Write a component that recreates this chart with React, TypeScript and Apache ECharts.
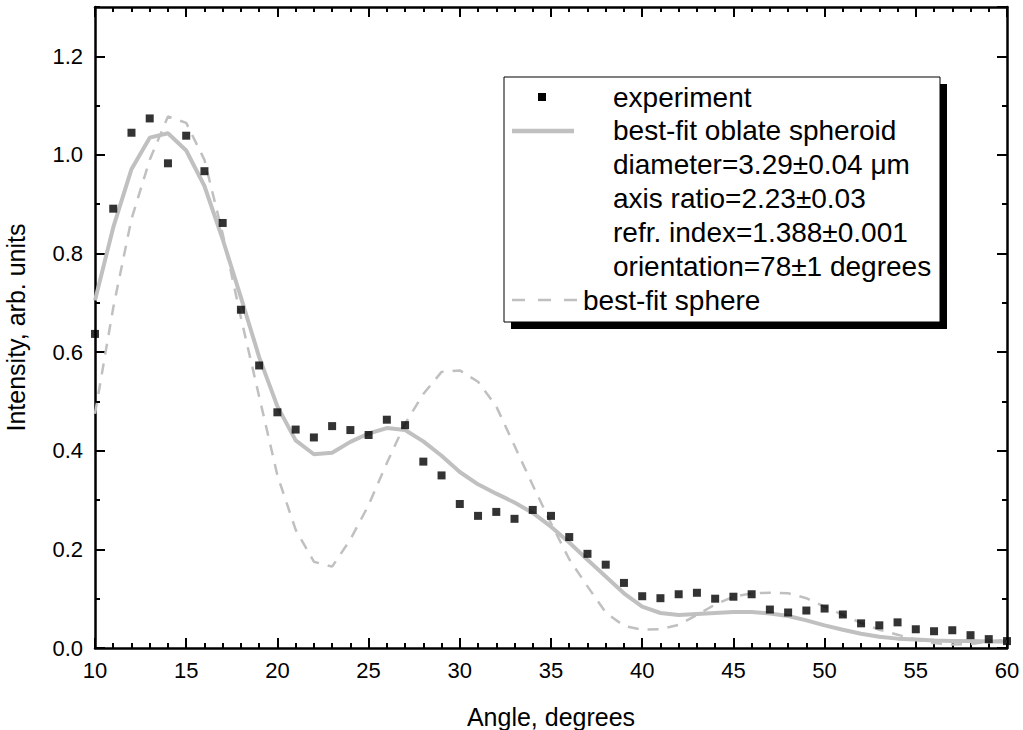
import React, { useEffect, useRef } from "react";
import * as echarts from "echarts";

const angles = [
  10, 11, 12, 13, 14, 15, 16, 17, 18, 19,
  20, 21, 22, 23, 24, 25, 26, 27, 28, 29,
  30, 31, 32, 33, 34, 35, 36, 37, 38, 39,
  40, 41, 42, 43, 44, 45, 46, 47, 48, 49,
  50, 51, 52, 53, 54, 55, 56, 57, 58, 59,
  60,
];

const experiment = [
  0.637, 0.891, 1.045, 1.074, 0.983, 1.039, 0.967, 0.862, 0.686, 0.573,
  0.478, 0.443, 0.427, 0.45, 0.442, 0.432, 0.463, 0.452, 0.378, 0.35,
  0.292, 0.268, 0.276, 0.262, 0.28, 0.268, 0.225, 0.191, 0.169, 0.132,
  0.105, 0.101, 0.109, 0.112, 0.1, 0.104, 0.109, 0.078, 0.072, 0.076,
  0.08, 0.068, 0.05, 0.046, 0.052, 0.038, 0.034, 0.036, 0.026, 0.018,
  0.014,
];

const oblateFit = [
  0.705, 0.853, 0.971, 1.035, 1.044, 1.009, 0.937, 0.829, 0.711, 0.59,
  0.49, 0.421, 0.393, 0.396, 0.418, 0.435, 0.446, 0.442, 0.419, 0.39,
  0.357, 0.332, 0.313, 0.295, 0.274, 0.246, 0.214, 0.179, 0.145, 0.111,
  0.084, 0.071, 0.067, 0.069, 0.071, 0.073, 0.073, 0.07, 0.065, 0.056,
  0.046, 0.037, 0.029, 0.023, 0.019, 0.017, 0.015, 0.014, 0.014, 0.013,
  0.013,
];

const sphereFit = [
  0.475, 0.69, 0.87, 0.99, 1.078, 1.065, 0.99, 0.84, 0.67, 0.51,
  0.35, 0.24, 0.175, 0.165, 0.22, 0.29, 0.375, 0.455, 0.515, 0.56,
  0.563, 0.54, 0.49, 0.41, 0.33, 0.253, 0.18, 0.125, 0.072, 0.045,
  0.037, 0.038, 0.047, 0.067, 0.088, 0.104, 0.111, 0.112, 0.111, 0.101,
  0.084, 0.067, 0.051, 0.037, 0.027, 0.017, 0.01, 0.007, 0.008, 0.013,
  0.017,
];

const legendLines = [
  "experiment",
  "best-fit oblate spheroid",
  "diameter=3.29±0.04 μm",
  "axis ratio=2.23±0.03",
  "refr. index=1.388±0.001",
  "orientation=78±1 degrees",
];
const legendSphere = "best-fit sphere";

const FONT = "'Liberation Sans', Arial, Helvetica, sans-serif";
const GREY = "#c0c0c0";

export default function App() {
  const ref = useRef<HTMLDivElement>(null);

  useEffect(() => {
    if (!ref.current) return;
    const chart = echarts.init(ref.current, null, { renderer: "svg" });

    const pair = (ys: number[]) => angles.map((a, i) => [a, ys[i]]);

    const tick = (len: number) => ({
      show: true,
      inside: true,
      length: len,
      lineStyle: { color: "#000", width: 2 },
    });
    const line = () => ({ show: true, onZero: false, lineStyle: { color: "#000", width: 2.5 } });

    const legendTextLines = legendLines.map((t, i) => ({
      type: "text",
      x: 613,
      y: 97 + i * 33.8,
      style: {
        text: t,
        fill: "#000",
        font: `28px ${FONT}`,
        verticalAlign: "middle",
      },
      z: 102,
    }));

    const yAx = (position: string, interval: number, len: number, showLine: boolean, extra: any = {}) => ({
      type: "value",
      min: 0,
      max: 1.3,
      interval,
      position,
      splitLine: { show: false },
      axisLine: showLine ? line() : { show: false, onZero: false },
      axisTick: tick(len),
      axisLabel: { show: false },
      ...extra,
    });

    chart.setOption({
      animation: false,
      backgroundColor: "#fff",
      grid: {
        left: 95,
        right: 16,
        top: 7,
        bottom: 82,
        containLabel: false,
        outerBoundsMode: "none",
      },
      xAxis: [
        {
          type: "value",
          position: "bottom",
          min: 10,
          max: 60,
          interval: 5,
          axisLine: line(),
          axisTick: tick(10),
          minorTick: { show: true, splitNumber: 5, length: 5, lineStyle: { color: "#000", width: 2 } },
          splitLine: { show: false },
          minorSplitLine: { show: false },
          axisLabel: { color: "#000", fontSize: 22, fontFamily: FONT, margin: 11 },
          name: "Angle, degrees",
          nameLocation: "middle",
          nameGap: 56,
          nameTextStyle: { color: "#000", fontSize: 25, fontFamily: FONT },
        },
        {
          type: "value",
          position: "top",
          min: 10,
          max: 60,
          interval: 5,
          axisLine: line(),
          axisTick: tick(10),
          minorTick: { show: true, splitNumber: 5, length: 5, lineStyle: { color: "#000", width: 2 } },
          splitLine: { show: false },
          axisLabel: { show: false },
        },
      ],
      yAxis: [
        yAx("left", 0.2, 10, true, {
          axisLabel: {
            show: true,
            color: "#000",
            fontSize: 22,
            fontFamily: FONT,
            margin: 12,
            showMaxLabel: false,
            formatter: (v: number) => v.toFixed(1),
          },
          name: "Intensity, arb. units",
          nameLocation: "middle",
          nameGap: 67,
          nameTextStyle: { color: "#000", fontSize: 25, fontFamily: FONT },
        }),
        yAx("left", 0.1, 5, false),
        yAx("right", 0.2, 10, true),
        yAx("right", 0.1, 5, false),
      ],
      series: [
        {
          name: "best-fit sphere",
          type: "line",
          xAxisIndex: 0,
          yAxisIndex: 0,
          data: pair(sphereFit),
          showSymbol: false,
          symbol: "none",
          lineStyle: { color: GREY, width: 2.5, type: [11, 9] },
          z: 2,
        },
        {
          name: "best-fit oblate spheroid",
          type: "line",
          xAxisIndex: 0,
          yAxisIndex: 0,
          data: pair(oblateFit),
          showSymbol: false,
          symbol: "none",
          lineStyle: { color: GREY, width: 4 },
          z: 3,
        },
        {
          name: "experiment",
          type: "scatter",
          xAxisIndex: 0,
          yAxisIndex: 0,
          data: pair(experiment),
          symbol: "rect",
          symbolSize: 8,
          itemStyle: { color: "#000" },
          clip: false,
          z: 4,
        },
      ],
      graphic: [
        {
          type: "rect",
          shape: { x: 511, y: 84, width: 436, height: 245 },
          style: { fill: "#000" },
          z: 100,
        },
        {
          type: "rect",
          shape: { x: 504, y: 77, width: 436, height: 245 },
          style: { fill: "#fff", stroke: "#000", lineWidth: 1 },
          z: 101,
        },
        {
          type: "rect",
          shape: { x: 538, y: 93, width: 8, height: 8 },
          style: { fill: "#000" },
          z: 102,
        },
        {
          type: "line",
          shape: { x1: 512, y1: 131, x2: 574, y2: 131 },
          style: { stroke: GREY, lineWidth: 4.5 },
          z: 102,
        },
        {
          type: "line",
          shape: { x1: 512, y1: 300, x2: 578, y2: 300 },
          style: { stroke: GREY, lineWidth: 2.5, lineDash: [13, 13] },
          z: 102,
        },
        ...legendTextLines,
        {
          type: "text",
          x: 583,
          y: 300,
          style: {
            text: legendSphere,
            fill: "#000",
            font: `28px ${FONT}`,
            verticalAlign: "middle",
          },
          z: 102,
        },
      ],
    });

    return () => chart.dispose();
  }, []);

  return (
    <div
      ref={ref}
      style={{ position: "fixed", left: 0, top: 0, width: 1023, height: 730, background: "#fff" }}
    />
  );
}
